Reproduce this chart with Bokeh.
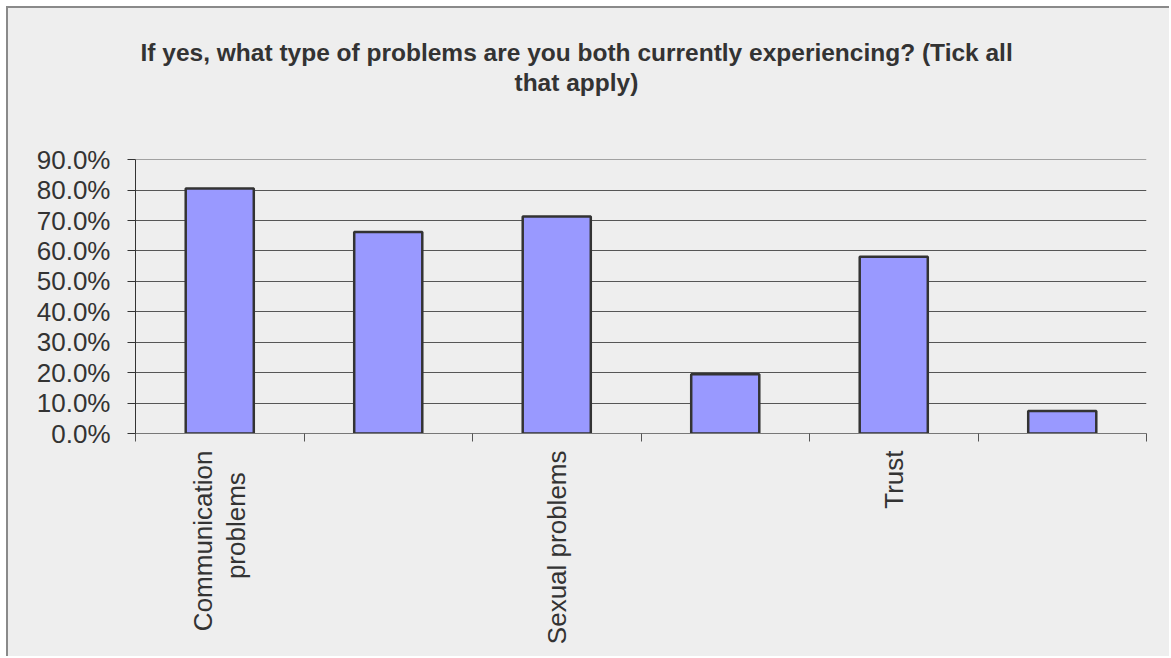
import math
from bokeh.plotting import figure
from bokeh.models import (ColumnDataSource, FixedTicker, PrintfTickFormatter,
                          Range1d, Title)
from bokeh.embed import file_html
from bokeh.resources import INLINE

# Survey responses (share of respondents, %)
categories = ["Communication\nproblems\u00a0\u00a0\u00a0", "", "Sexual problems", "", "Trust", ""]
values = [80.5, 66.2, 71.3, 19.5, 58.1, 7.4]
y_ticks = [0, 10, 20, 30, 40, 50, 60, 70, 80, 90]
title_lines = ["If yes, what type of problems are you both currently experiencing? (Tick all",
               "that apply)"]

positions = list(range(1, len(categories) + 1))
source = ColumnDataSource(dict(x=positions, value=values))

BG = "#eeeeee"
FONT = "Liberation Sans"

p = figure(width=1163, height=650, output_backend="svg", toolbar_location=None,
           x_range=Range1d(0.5, len(categories) + 0.5), y_range=Range1d(0, 90.05),
           min_border_left=127, min_border_right=25, min_border_top=151,
           min_border_bottom=225, background_fill_color=BG, border_fill_color=BG,
           outline_line_color=None)
p.margin = (6, 0, 0, 6)
p.styles = {"border-left": "2px solid #8a8a8a", "border-top": "2px solid #8a8a8a",
            "background-color": BG}

p.vbar(x="x", top="value", width=0.404, source=source, fill_color="#9999ff",
       line_color="#333333", line_width=2.5)

# y axis
p.yaxis.ticker = FixedTicker(ticks=y_ticks)
p.yaxis.formatter = PrintfTickFormatter(format="%.1f%%")
p.yaxis.major_label_text_font = FONT
p.yaxis.major_label_text_font_size = "26px"
p.yaxis.major_label_text_color = "#333333"
p.yaxis.major_tick_out = 8
p.yaxis.major_tick_in = 0
p.yaxis.major_tick_line_color = "#333333"
p.yaxis.minor_tick_line_color = None
p.yaxis.axis_line_color = "#333333"
p.yaxis.major_label_standoff = 17

# x axis: labels at bar centres, tick marks at category boundaries
p.xaxis.ticker = FixedTicker(ticks=positions,
                             minor_ticks=[i + 0.5 for i in range(len(categories) + 1)])
p.xaxis.major_label_overrides = {pos: lab for pos, lab in zip(positions, categories)}
p.xaxis.major_label_orientation = math.pi / 2
p.xaxis.major_label_text_font = FONT
p.xaxis.major_label_text_font_size = "26px"
p.xaxis.major_label_text_color = "#333333"
p.xaxis.major_label_text_line_height = 1.1
p.xaxis.major_tick_line_color = None
p.xaxis.minor_tick_line_color = "#555555"
p.xaxis.minor_tick_out = 8
p.xaxis.minor_tick_in = 0
p.xaxis.major_tick_out = 8
p.xaxis.major_label_standoff = 9
p.xaxis.axis_line_color = "#777777"

p.xgrid.grid_line_color = None
p.ygrid.ticker = FixedTicker(ticks=y_ticks)
p.ygrid.grid_line_color = "#555555"
p.ygrid.grid_line_width = 1

# two-line title, each line left-aligned with a pixel offset so both are centred
# on the same column; a blank title panel keeps the heading clear of the plot
TITLE_STYLE = dict(text_font=FONT, text_font_style="bold", text_font_size="24.5px",
                   text_color="#333333", align="left")
p.title.text = title_lines[0]
p.title.offset = 5
p.title.standoff = 0
for k, v in TITLE_STYLE.items():
    setattr(p.title, k, v)
p.add_layout(Title(text=" ", standoff=33, **TITLE_STYLE), "above")
p.add_layout(Title(text=title_lines[1], offset=379, standoff=3, **TITLE_STYLE), "above")

open("out.html", "w").write(file_html(p, INLINE))
